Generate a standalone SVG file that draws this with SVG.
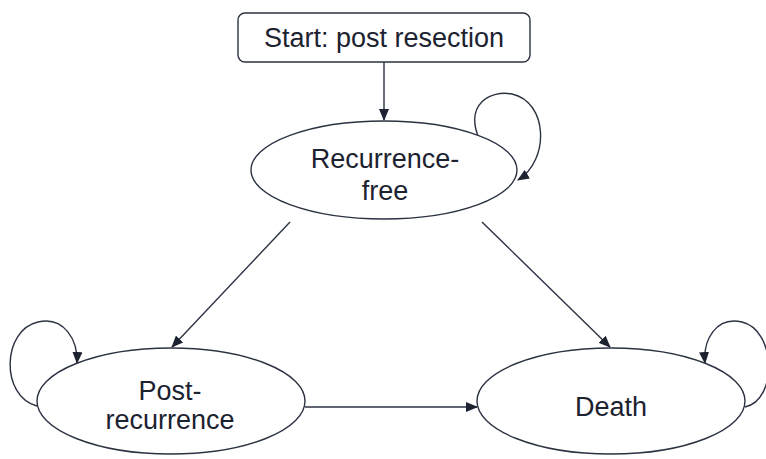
<svg xmlns="http://www.w3.org/2000/svg" width="766" height="459" viewBox="0 0 766 459">
<defs>
<style>
.n{fill:#fff;stroke:#2b3242;stroke-width:1.4}
.c{fill:none;stroke:#2b3242;stroke-width:1.4}
.t{font-family:"Liberation Sans",Arial,sans-serif;font-size:27px;fill:#1c2230;text-anchor:middle}
</style>
<marker id="ah" markerWidth="12" markerHeight="10" refX="11" refY="5" orient="auto" markerUnits="userSpaceOnUse">
<path d="M0,0 L12,5 L0,10 Z" fill="#1c2230"/>
</marker>
</defs>
<rect width="766" height="459" fill="#fff"/>
<g id="connectors">
<path class="c" d="M384,62 L384,120" marker-end="url(#ah)"/>
<path class="c" d="M478,136 C466,104 490,90 512,94 C548,102 550,160 518,180" marker-end="url(#ah)"/>
<path class="c" d="M290,222 L172,347" marker-end="url(#ah)"/>
<path class="c" d="M482,222 L610,347" marker-end="url(#ah)"/>
<path class="c" d="M305,407 L477,407" marker-end="url(#ah)"/>
<path class="c" d="M37,406 C0,396 2,330 38,322 C64,316 78,340 77,363" marker-end="url(#ah)"/>
<path class="c" d="M745,407 C778,400 776,330 742,322 C716,316 703,340 705,363" marker-end="url(#ah)"/>
</g>
<g id="start">
<rect class="n" x="238" y="13" width="292" height="49" rx="7"/>
<text class="t" x="384" y="47">Start: post resection</text>
</g>
<g id="recurrence-free">
<ellipse class="n" cx="384" cy="170" rx="133" ry="49"/>
<text class="t" x="385" y="168">Recurrence-</text>
<text class="t" x="385" y="200">free</text>
</g>
<g id="post-recurrence">
<ellipse class="n" cx="171" cy="401" rx="134" ry="53"/>
<text class="t" x="170" y="400">Post-</text>
<text class="t" x="170" y="429">recurrence</text>
</g>
<g id="death">
<ellipse class="n" cx="611" cy="401" rx="134" ry="53"/>
<text class="t" x="611" y="416">Death</text>
</g>
</svg>
